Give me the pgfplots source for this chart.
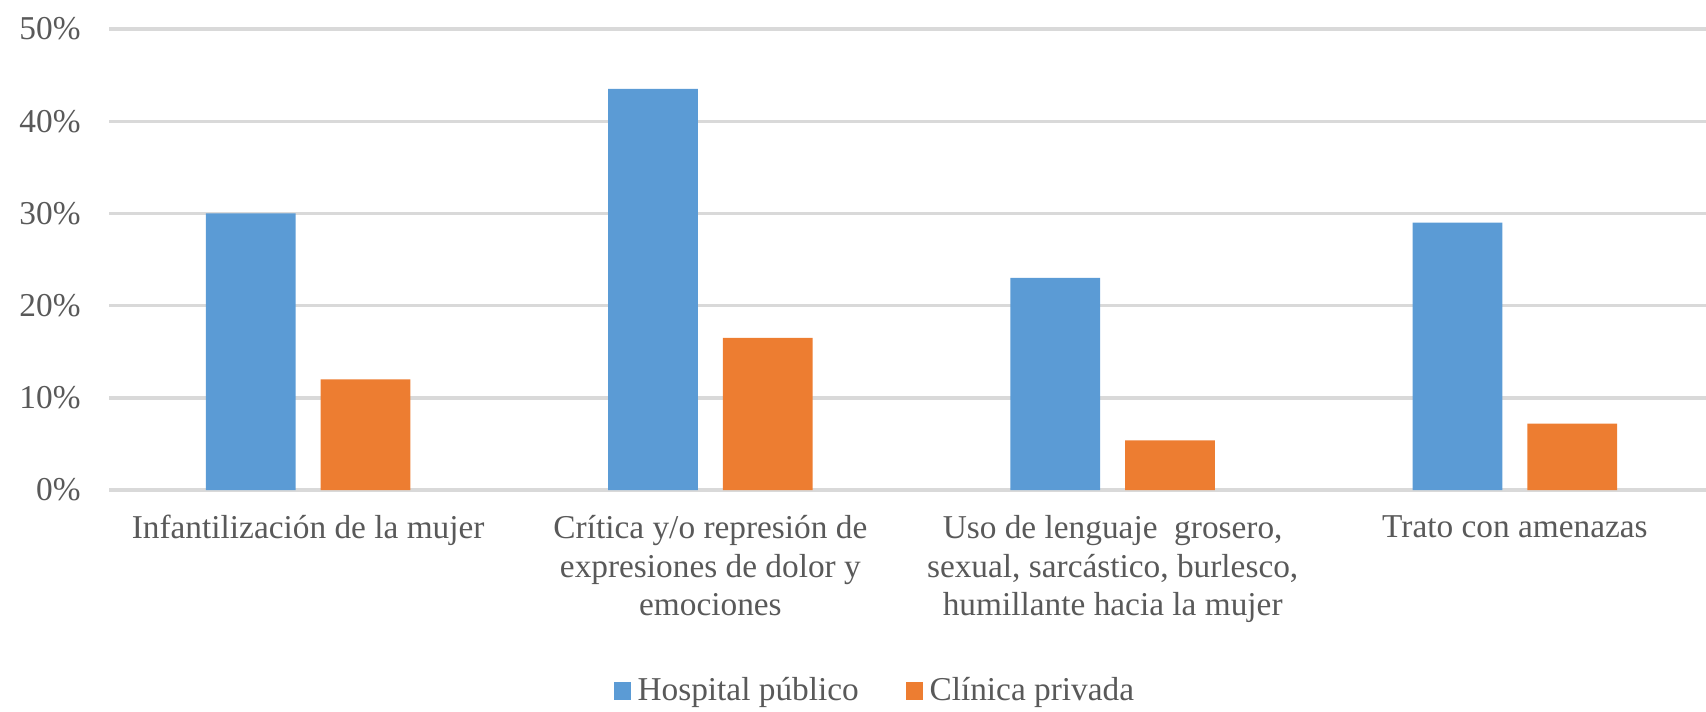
\documentclass[border=0pt]{standalone}
\usepackage{fontspec}
\setmainfont{Liberation Serif}
\usepackage{pgfplots}
\pgfplotsset{compat=1.18}
\definecolor{hosp}{HTML}{5B9BD5}
\definecolor{clin}{HTML}{ED7D31}
\definecolor{txt}{HTML}{595959}
\definecolor{gridc}{HTML}{D9D9D9}
\begin{document}
\begin{tikzpicture}
\begin{axis}[
    scale only axis,
    width=479pt, height=138.3pt,
    ybar=7.5pt, bar width=26.9pt,
    xmin=-0.495, xmax=3.475,
    ymin=0, ymax=50,
    xtick=data,
    xticklabels={
        {Infantilización de la mujer},
        {Crítica y/o represión de\\expresiones de dolor y\\emociones},
        {Uso de lenguaje\ \ grosero,\\sexual, sarcástico, burlesco,\\humillante hacia la mujer},
        {Trato con amenazas}},
    xticklabel style={align=center, font=\fontsize{10}{11.6}\selectfont, text=txt, yshift=-4pt},
    ytick={0,10,20,30,40,50},
    yticklabel={\pgfmathprintnumber{\tick}\%},
    yticklabel style={font=\fontsize{10}{12}\selectfont, text=txt, xshift=-5pt},
    /pgf/number format/assume math mode=true,
    major tick length=0pt,
    xmajorgrids=false,
    ymajorgrids=true,
    y grid style={draw=gridc, line width=1pt},
    axis x line*=bottom, axis y line*=left,
    x axis line style={draw=gridc, line width=1.2pt, -},
    y axis line style={draw=none},
    enlarge y limits=false,
    legend style={at={(0.481,0)}, anchor=center, yshift=-60.3pt, draw=none,
        font=\fontsize{10}{12}\selectfont, text=txt, legend columns=-1,
        /tikz/every even column/.append style={column sep=12pt}},
    legend image code/.code={\fill (0pt,-2.6pt) rectangle (5.2pt,2.6pt);},
]
\addplot[fill=hosp, draw=none] coordinates {(0,30) (1,43.5) (2,23) (3,29)};
\addplot[fill=clin, draw=none] coordinates {(0,12) (1,16.5) (2,5.4) (3,7.2)};
\legend{Hospital público, Clínica privada}
\end{axis}
\pgfresetboundingbox
\path (-32.7pt,-66.3pt) rectangle (479pt,147pt);
\end{tikzpicture}
\end{document}
